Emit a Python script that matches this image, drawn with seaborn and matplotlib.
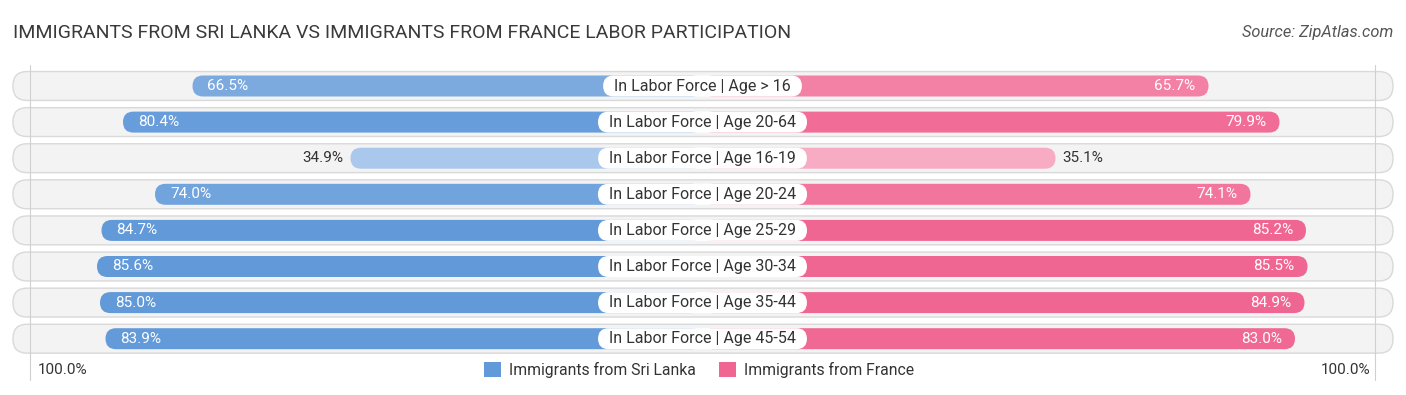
import matplotlib.pyplot as plt
import numpy as np
import pandas as pd
import seaborn as sns
from matplotlib.patches import FancyBboxPatch, Patch

categories = [
    "In Labor Force | Age > 16",
    "In Labor Force | Age 20-64",
    "In Labor Force | Age 16-19",
    "In Labor Force | Age 20-24",
    "In Labor Force | Age 25-29",
    "In Labor Force | Age 30-34",
    "In Labor Force | Age 35-44",
    "In Labor Force | Age 45-54",
]
sri_lanka = [66.5, 80.4, 34.9, 74.0, 84.7, 85.6, 85.0, 83.9]
france = [65.7, 79.9, 35.1, 74.1, 85.2, 85.5, 84.9, 83.0]
series_names = ["Immigrants from Sri Lanka", "Immigrants from France"]

BLUE = np.array([97, 153, 217]) / 255
PINK = np.array([240, 102, 146]) / 255

sns.set_theme(style="white")
plt.rcParams["font.family"] = ["Roboto", "DejaVu Sans"]

W, H = 1406, 395
PX = 5.0        # pixels per percent
CX = 702.5      # centre of the chart in px
GAP = 35.5      # bars start this far (in % units) from the centre
ROW0, ROWH = 86, 36.1
ASP = PX / ROWH


def shade(base, v):
    t = np.clip(0.4 + 0.6 * (v - 20) / 65, 0, 1)
    return tuple(1 - (1 - base) * t)


fig = plt.figure(figsize=(W / 100, H / 100), dpi=100)
ax = fig.add_axes([0, 0, 1, 1])

# background pills
for i in range(len(categories)):
    ax.add_patch(FancyBboxPatch(((13 - CX) / PX, i - 0.4), (1393 - 13) / PX, 0.8,
                                boxstyle=f"round,pad=0,rounding_size={14 / PX}",
                                mutation_aspect=ASP, fc="#f3f3f3", ec="#d9d9d9",
                                lw=1, zorder=0))

left = pd.DataFrame({"category": categories, "value": sri_lanka})
left["pos"] = -(GAP + left["value"])
right = pd.DataFrame({"category": categories, "value": france})
right["pos"] = GAP + right["value"]

sns.barplot(data=left, x="pos", y="category", hue="category", orient="h",
            palette={c: shade(BLUE, v) for c, v in zip(categories, sri_lanka)},
            width=21 / ROWH, saturation=1, errorbar=None, legend=False, ax=ax)
sns.barplot(data=right, x="pos", y="category", hue="category", orient="h",
            palette={c: shade(PINK, v) for c, v in zip(categories, france)},
            width=21 / ROWH, saturation=1, errorbar=None, legend=False, ax=ax)

# turn the rectangles into rounded bars
for cont in ax.containers:
    for rect in cont:
        x, y, w, h = rect.get_x(), rect.get_y(), rect.get_width(), rect.get_height()
        if w == 0:
            continue
        ax.add_patch(FancyBboxPatch((min(x, x + w), y), abs(w), h,
                                    boxstyle=f"round,pad=0,rounding_size={10.5 / PX}",
                                    mutation_aspect=ASP, fc=rect.get_facecolor(),
                                    ec="none", zorder=2))
        rect.set_visible(False)

ax.set_xlim(-CX / PX, (W - CX) / PX)
ax.set_ylim((H - ROW0) / ROWH, -ROW0 / ROWH)
ax.axis("off")

# 100% guide lines
for s in (-1, 1):
    ax.plot([s * 134.5, s * 134.5], [(65 - ROW0) / ROWH, (380 - ROW0) / ROWH],
            color="#d0d0d0", lw=0.8, zorder=1)

# value labels
for i, (a, b) in enumerate(zip(sri_lanka, france)):
    if a > 50:
        ax.text(-(GAP + a) + 3.0, i, f"{a:.1f}%", ha="left", va="center",
                color="white", fontsize=11, zorder=6)
    else:
        ax.text(-(GAP + a) - 1.4, i, f"{a:.1f}%", ha="right", va="center",
                color="#333333", fontsize=11, zorder=6)
    if b > 50:
        ax.text(GAP + b - 2.6, i, f"{b:.1f}%", ha="right", va="center",
                color="white", fontsize=11, zorder=6)
    else:
        ax.text(GAP + b + 1.4, i, f"{b:.1f}%", ha="left", va="center",
                color="#333333", fontsize=11, zorder=6)

# category labels in white boxes
texts = [ax.text(0, i, c, ha="center", va="center", fontsize=11.5,
                 color="#333333", zorder=6) for i, c in enumerate(categories)]
fig.canvas.draw()
renderer = fig.canvas.get_renderer()
for i, t in enumerate(texts):
    wpx = t.get_window_extent(renderer).width + 22
    ax.add_patch(FancyBboxPatch((-wpx / 2 / PX, i - 10.5 / ROWH), wpx / PX, 21 / ROWH,
                                boxstyle=f"round,pad=0,rounding_size={10.5 / PX}",
                                mutation_aspect=ASP, fc="white", ec="none", zorder=5))

fig.text(13 / W, 1 - 33 / H,
         "IMMIGRANTS FROM SRI LANKA VS IMMIGRANTS FROM FRANCE LABOR PARTICIPATION",
         fontsize=14, color="#3a3a3a", va="center", ha="left")
fig.text(1393 / W, 1 - 33 / H, "Source: ZipAtlas.com", fontsize=11.8,
         style="italic", color="#555555", va="center", ha="right")
fig.text(38 / W, 1 - 370 / H, "100.0%", fontsize=11, color="#333333",
         va="center", ha="left")
fig.text(1370 / W, 1 - 370 / H, "100.0%", fontsize=11, color="#333333",
         va="center", ha="right")

handles = [Patch(fc=BLUE, ec="none", label=series_names[0]),
           Patch(fc=PINK, ec="none", label=series_names[1])]
fig.legend(handles=handles, loc="center", bbox_to_anchor=(699 / W, 1 - 370 / H),
           ncol=2, frameon=False, fontsize=11.3, handlelength=1.1,
           handleheight=1.1, columnspacing=1.5, handletextpad=0.5,
           labelcolor="#333333")

fig.savefig("out.png", dpi=100)
